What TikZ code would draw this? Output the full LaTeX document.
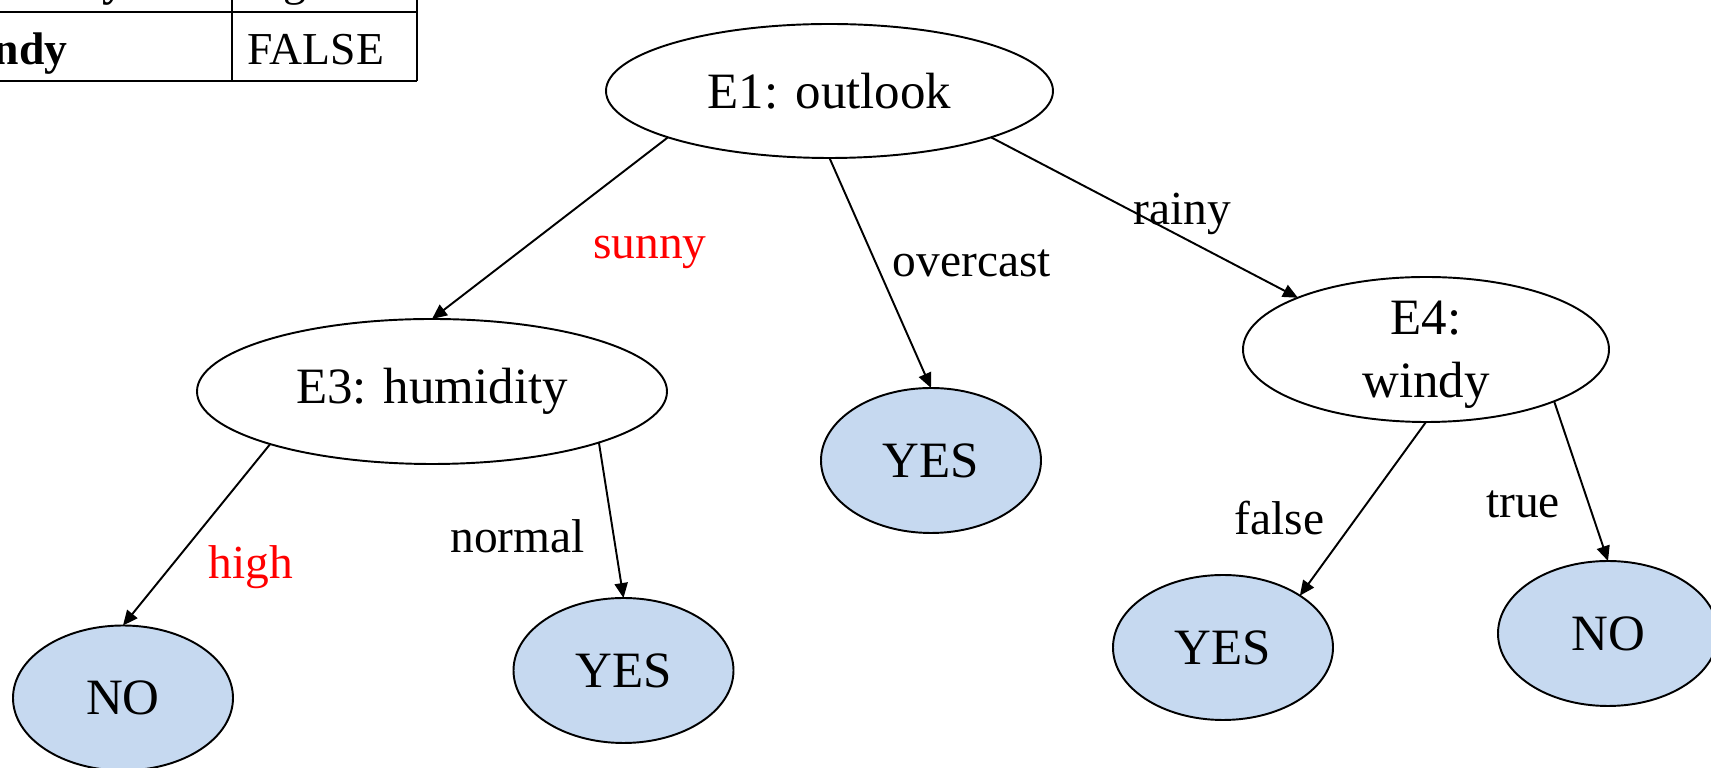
\documentclass[tikz,border=0pt]{standalone}
\usepackage{fontspec}
\setmainfont{Liberation Serif}
\usetikzlibrary{arrows.meta,shapes.geometric}
\definecolor{leafblue}{RGB}{198,217,240}

\begin{document}
\begin{tikzpicture}[every node/.style={font=\fontsize{27}{32}\selectfont}, >={Triangle[length=8.5pt,width=7.5pt]}, line width=1.1pt,
	test/.style={draw, ellipse, inner sep=0pt, outer sep=0pt, align=center, font=\fontsize{29}{36}\selectfont},
	leaf/.style={test, fill=leafblue, minimum width=4.4cm, minimum height=2.9cm},
	cell/.style={anchor=base west, inner sep=0pt, font=\fontsize{26}{31}\selectfont}]
	\useasboundingbox (0,0) rectangle (34.22,15.36);
	% corner of the example table
	\draw (0,15.12) -- (8.34,15.12) (0,13.74) -- (8.34,13.74);
	\draw (4.64,15.36) -- (4.64,13.74) (8.34,15.36) -- (8.34,13.74);
	\node[cell, font=\bfseries\fontsize{26}{31}\selectfont] (hum) at (-1.06,15.44) {humidity};
	\node[cell] (high) at (4.94,15.44) {high};
	\node[cell, font=\bfseries\fontsize{26}{31}\selectfont] (wind) at (-1.06,14.06) {windy};
	\node[cell] (false) at (4.94,14.06) {FALSE};
	% tree
	\node[test, minimum width=8.94cm, minimum height=2.68cm] (E1) at (16.59,13.54) {E1: outlook};
	\node[test, minimum width=9.4cm, minimum height=2.9cm] (E3) at (8.64,7.53) {E3: humidity};
	\node[leaf] (Y1) at (18.62,6.15) {YES};
	\node[test, minimum width=7.32cm, minimum height=2.9cm, text depth=0pt] (E4) at (28.52,8.37) {E4:\\windy};
	\node[leaf] (N1) at (2.46,1.40) {NO};
	\node[leaf] (Y2) at (12.47,1.95) {YES};
	\node[leaf] (Y3) at (24.46,2.41) {YES};
	\node[leaf] (N2) at (32.16,2.69) {NO};
	\draw[->] (E1.196) -- (E3.north);
	\draw[->] (E1.south) -- (Y1.north);
	\draw[->] (E1.344) -- (E4.158);
	\draw[->] (E3.198) -- (N1.north);
	\draw[->] (E3.343) -- (Y2.north);
	\draw[->] (E4.south) -- (Y3.34);
	\draw[->] (E4.338) -- (N2.north);
	% branch values
	\node[red, anchor=base] (sunny) at (13.0,10.18) {sunny};
	\node[anchor=base] (overcast) at (19.44,9.82) {overcast};
	\node[anchor=base] (rainy) at (23.64,10.87) {rainy};
	\node[red, anchor=base] (highv) at (5.02,3.78) {high};
	\node[anchor=base] (normal) at (10.35,4.30) {normal};
	\node[anchor=base] (falsev) at (25.59,4.66) {false};
	\node[anchor=base] (truev) at (30.46,5.0) {true};
\end{tikzpicture}
\end{document}
